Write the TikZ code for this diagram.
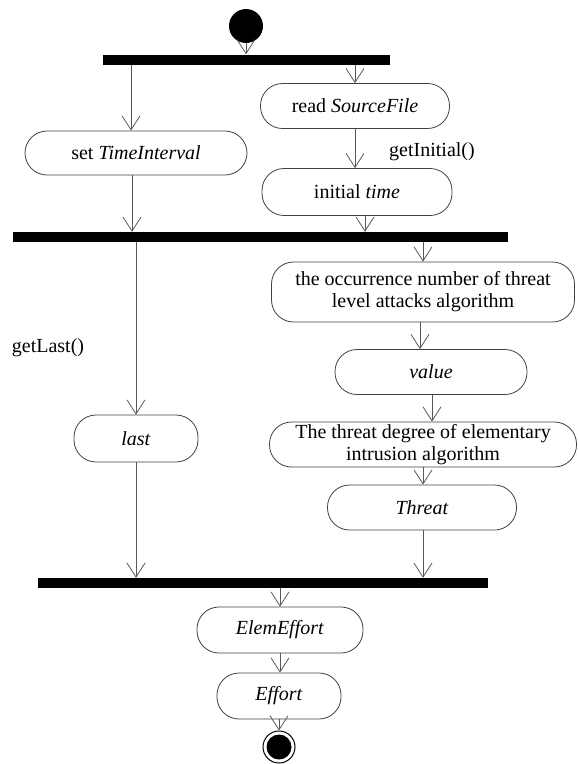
\documentclass[tikz,border=0pt]{standalone}
\usepackage{fontspec}
\setmainfont{Liberation Serif}
\usetikzlibrary{arrows.meta}
\begin{document}
\begin{tikzpicture}[x=1pt,y=-1pt,
 act/.style={draw=black!75, line width=0.8pt, rounded corners=22pt, minimum height=45pt, inner sep=0pt, font=\fontsize{20}{22}\selectfont, align=center},
 bar/.style={fill=black, draw=none, inner sep=0pt, minimum height=10pt},
 arr/.style={draw=black!65, line width=0.8pt, -{Straight Barb[length=14pt,width=18pt]}},
 lbl/.style={font=\fontsize{20}{22}\selectfont, inner sep=0pt}]
\useasboundingbox (0,0) rectangle (578,764);
\node[circle, fill=black, minimum size=34pt, inner sep=0pt] (start) at (246,26) {};
\node[bar, minimum width=287pt] (bar1) at (246.5,59.5) {};
\node[act, minimum width=222pt, minimum height=44pt] (set) at (136,153) {set \textit{TimeInterval}};
\node[act, minimum width=189pt] (read) at (355,106) {read \textit{SourceFile}};
\node[act, minimum width=190pt, minimum height=47pt] (init) at (357,192) {initial \textit{time}};
\node[lbl] (gi) at (432,152) {getInitial()};
\node[bar, minimum width=495pt] (bar2) at (260.5,237) {};
\node[act, minimum width=303pt, minimum height=60pt] (occ) at (423,292) {the occurrence number of threat\\level attacks algorithm};
\node[act, minimum width=192pt] (val) at (431,372) {\textit{value}};
\node[act, minimum width=307pt] (deg) at (423,444.5) {The threat degree of elementary\\intrusion algorithm};
\node[act, minimum width=189pt] (thr) at (422,507.5) {\textit{Threat}};
\node[bar, minimum width=450pt] (bar3) at (263,583) {};
\node[act, minimum width=124pt, minimum height=47pt] (last) at (136,438.5) {\textit{last}};
\node[lbl] (gl) at (48,348) {getLast()};
\node[act, minimum width=166pt, minimum height=46pt] (elem) at (280,630) {\textit{ElemEffort}};
\node[act, minimum width=124pt, minimum height=46pt] (eff) at (279,696) {\textit{Effort}};
\node[circle, draw=black, line width=1pt, minimum size=32pt, inner sep=0pt] (end) at (279,747) {};
\node[circle, fill=black, minimum size=25pt, inner sep=0pt] (endin) at (end.center) {};

\draw[arr] (start.south) -- (start.south |- bar1.north);
\draw[arr] ([xshift=-5pt]bar1.south -| set.north) -- ([xshift=-5pt]set.north);
\draw[arr] (bar1.south -| read.north) -- (read.north);
\draw[arr] (read.south) -- (read.south |- init.north);
\draw[arr] ([xshift=8pt]init.south) -- ([xshift=8pt]init.south |- bar2.north);
\draw[arr] ([xshift=-4pt]set.south) -- ([xshift=-4pt]set.south |- bar2.north);
\draw[arr] (bar2.south -| occ.north) -- (occ.north);
\draw[arr] (bar2.south -| last.north) -- (last.north);
\draw[arr] ([xshift=-3pt]occ.south) -- ([xshift=-3pt]occ.south |- val.north);
\draw[arr] ([xshift=1pt]val.south) -- ([xshift=1pt]val.south |- deg.north);
\draw[arr] (deg.south) -- (deg.south |- thr.north);
\draw[arr] ([xshift=1pt]thr.south) -- ([xshift=1pt]thr.south |- bar3.north);
\draw[arr] (last.south) -- (last.south |- bar3.north);
\draw[arr] (bar3.south -| elem.north) -- (elem.north);
\draw[arr] (elem.south) -- (elem.south |- eff.north);
\draw[arr] (eff.south) -- (eff.south |- end.north);
\end{tikzpicture}
\end{document}
